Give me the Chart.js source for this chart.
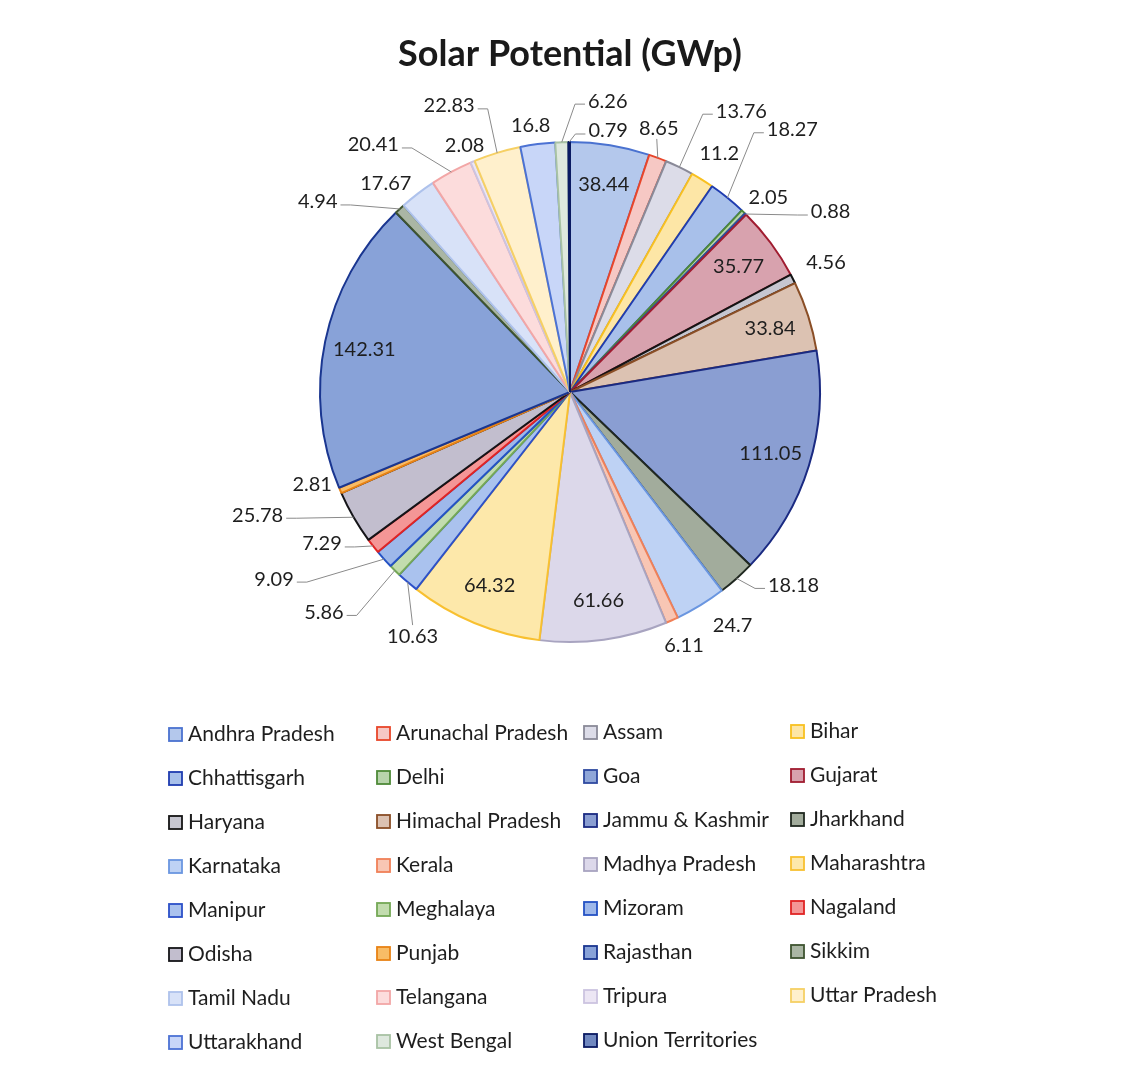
<!DOCTYPE html>
<html>
<head>
<meta charset="utf-8">
<title>Solar Potential (GWp)</title>
<script src="https://cdn.jsdelivr.net/npm/chart.js@4.4.1/dist/chart.umd.min.js"></script>
<style>
  html, body { margin: 0; padding: 0; background: #ffffff; }
  canvas { display: block; }
</style>
</head>
<body>
<canvas id="solarChart" width="1148" height="1075"></canvas>
<script>
// state-wise solar potential, clockwise from 12 o'clock
const states = [
  'Andhra Pradesh', 'Arunachal Pradesh', 'Assam', 'Bihar',
  'Chhattisgarh', 'Delhi', 'Goa', 'Gujarat',
  'Haryana', 'Himachal Pradesh', 'Jammu & Kashmir', 'Jharkhand',
  'Karnataka', 'Kerala', 'Madhya Pradesh', 'Maharashtra',
  'Manipur', 'Meghalaya', 'Mizoram', 'Nagaland',
  'Odisha', 'Punjab', 'Rajasthan', 'Sikkim',
  'Tamil Nadu', 'Telangana', 'Tripura', 'Uttar Pradesh',
  'Uttarakhand', 'West Bengal', 'Union Territories'
];
const potential = [
  38.44, 8.65, 13.76, 11.2,
  18.27, 2.05, 0.88, 35.77,
  4.56, 33.84, 111.05, 18.18,
  24.7, 6.11, 61.66, 64.32,
  10.63, 5.86, 9.09, 7.29,
  25.78, 2.81, 142.31, 4.94,
  17.67, 20.41, 2.08, 22.83,
  16.8, 6.26, 0.79
];

const fills = [
  '#b4c8ec', '#f6c8c4', '#dcdce8', '#fde6a6',
  '#a8c0ea', '#b8d4ac', '#8fa6d8', '#d8a2ae',
  '#c6c6d0', '#dcc2b2', '#8a9ed2', '#a2ac9c',
  '#bed2f4', '#f8c6b4', '#dcd8ea', '#fde8aa',
  '#aac2ee', '#c2dcae', '#9eb8ea', '#f49696',
  '#c2bece', '#f8bc66', '#88a2d8', '#aab6a4',
  '#d8e2f8', '#fcdcdc', '#ece6f4', '#fff0cc',
  '#c8d6f8', '#dee8de', '#7088c0'
];
const borders = [
  '#4a72d0', '#e8462a', '#8a8a98', '#f8c020',
  '#1f3cb0', '#4e8a38', '#2f4aa0', '#a01c30',
  '#141414', '#8a4e26', '#1a2a82', '#202820',
  '#6a96e0', '#f08058', '#a8a4c0', '#f8c030',
  '#2c50c8', '#74a856', '#2452c4', '#e02424',
  '#141418', '#e88214', '#1a3690', '#3e5430',
  '#aec2ec', '#f2a6a6', '#ccc4e0', '#f6d064',
  '#4c72d4', '#a8c2a4', '#0a1a62'
];

// label placement: 'in' = inside the slice, otherwise [dx, dy, leader side] from the rim midpoint
const placement = [
  'in', [1, -29, 'b'], [62, -56, 'l'], [17, -26],
  [65, -68, 'l'], [25, -14], [85, -2, 'l'], 'in',
  [33, -16], 'in', 'in', [57, 7, 'l'],
  [32, 20], [12, 25], 'in', 'in',
  [5, 54, 't'], [-71, 42, 'r'], [-110, 20, 'r'], [-51, -2, 'r'],
  [-96, -2, 'r'], [-28, -6], 'in', [-82, -7, 'r'],
  [-32, -10], [-78, -27, 'r'], [-8, -16], [-48, -47, 'r'],
  [-7, -19], [46, -41, 'l'], [39, -11, 'l']
];

const FONT = 'Lato, "Open Sans", sans-serif';

const sliceLabels = {
  id: 'sliceLabels',
  afterDraw(chart) {
    const ctx = chart.ctx;
    const arcs = chart.getDatasetMeta(0).data;
    const values = chart.data.datasets[0].data;
    ctx.save();
    ctx.font = '20px ' + FONT;
    ctx.textAlign = 'center';
    ctx.textBaseline = 'middle';
    arcs.forEach((arc, i) => {
      const { x, y, startAngle, endAngle, outerRadius } =
        arc.getProps(['x', 'y', 'startAngle', 'endAngle', 'outerRadius'], true);
      const mid = (startAngle + endAngle) / 2;
      const cos = Math.cos(mid), sin = Math.sin(mid);
      const p = placement[i];
      const text = String(values[i]);
      let lx, ly;
      if (p === 'in') {
        lx = x + cos * outerRadius * 0.84;
        ly = y + sin * outerRadius * 0.84;
      } else {
        const ex = x + cos * outerRadius, ey = y + sin * outerRadius;
        lx = ex + p[0];
        ly = ey + p[1];
        if (p[2]) {
          const w = ctx.measureText(text).width;
          ctx.beginPath();
          ctx.strokeStyle = '#8a8a8a';
          ctx.lineWidth = 1;
          ctx.moveTo(ex, ey);
          if (p[2] === 'l') {
            const ax = lx - w / 2 - 3;
            ctx.lineTo(ax - 10, ly + 3);
            ctx.lineTo(ax, ly + 3);
          } else if (p[2] === 'r') {
            const ax = lx + w / 2 + 3;
            ctx.lineTo(ax + 10, ly + 3);
            ctx.lineTo(ax, ly + 3);
          } else if (p[2] === 'b') {
            ctx.lineTo(lx - 2, ly + 10);
          } else {
            ctx.lineTo(lx, ly - 11);
          }
          ctx.stroke();
        }
      }
      ctx.fillStyle = '#1e1e1e';
      ctx.fillText(text, lx, ly);
    });
    ctx.restore();
  }
};

// legend as a 4-column grid under the pie
const gridLegend = {
  id: 'gridLegend',
  afterDraw(chart) {
    const ctx = chart.ctx;
    const ds = chart.data.datasets[0];
    const colX = [169, 377, 584, 791];
    ctx.save();
    ctx.font = '21px ' + FONT;
    ctx.textAlign = 'left';
    ctx.textBaseline = 'middle';
    chart.data.labels.forEach((name, i) => {
      const col = i % 4, row = Math.floor(i / 4);
      const bx = colX[col];
      const by = 734 + row * 44 - col;
      ctx.fillStyle = ds.backgroundColor[i];
      ctx.fillRect(bx, by - 6, 13, 13);
      ctx.strokeStyle = ds.borderColor[i];
      ctx.lineWidth = 1.8;
      ctx.strokeRect(bx, by - 6, 13, 13);
      ctx.fillStyle = '#1e1e1e';
      ctx.fillText(name, bx + 19, by);
    });
    ctx.restore();
  }
};

const ctx = document.getElementById('solarChart').getContext('2d');
const solarChart = new Chart(ctx, {
  type: 'pie',
  data: {
    labels: states,
    datasets: [{
      data: potential,
      backgroundColor: fills,
      borderColor: borders,
      borderWidth: 2
    }]
  },
  options: {
    responsive: false,
    animation: false,
    events: [],
    radius: 250,
    layout: {
      padding: { left: 0, right: 8, top: 0, bottom: 433 }
    },
    plugins: {
      legend: { display: false },
      tooltip: { enabled: false },
      title: {
        display: true,
        text: 'Solar Potential (GWp)',
        color: '#1a1a1a',
        font: { family: FONT, size: 36, weight: 'bold' },
        padding: { top: 33, bottom: 65.8 }
      }
    }
  },
  plugins: [sliceLabels, gridLegend]
});
</script>
</body>
</html>
